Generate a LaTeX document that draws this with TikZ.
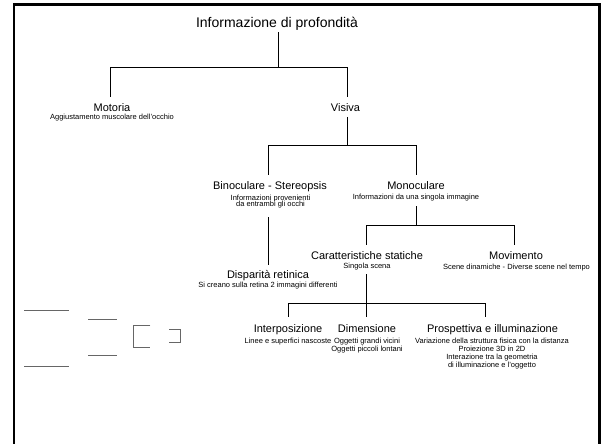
\documentclass[tikz,border=0pt]{standalone}
\usepackage{fontspec}
\setmainfont{Liberation Sans}
\begin{document}
\begin{tikzpicture}[x=1pt,y=-1pt,
  conn/.style={draw=black, line width=0.9pt},
  titletext/.style={font=\fontsize{14}{16}\selectfont, inner sep=0pt,
    text height=10.5pt, text depth=3.5pt, anchor=base},
  head/.style={font=\fontsize{11}{13}\selectfont, inner sep=0pt,
    text height=8.25pt, text depth=2.75pt, anchor=base},
  subtext/.style={font=\fontsize{7.5}{8}\selectfont, inner sep=0pt,
    text height=5.6pt, text depth=1.9pt, anchor=base},
  sketch/.style={draw=black!60, line width=0.8pt}]

\useasboundingbox (0,0) rectangle (602,444);

% outer frame (open at the bottom edge)
\draw[line width=2.8pt] (14,448) -- (14,4.5) -- (599.8,4.5) -- (599.8,448);

% labels
\node[titletext] (title) at (277,27.5) {Informazione di profondità};

\node[head] (motoria) at (112,111.3) {Motoria};
\node[subtext] (motoria-s) at (112,119.8) {Aggiustamento muscolare dell'occhio};
\node[head] (visiva) at (345.5,111.3) {Visiva};

\node[head] (binoc) at (270,189.6) {Binoculare - Stereopsis};
\node[subtext] (binoc-s1) at (270.5,200.2) {Informazioni provenienti};
\node[subtext] (binoc-s2) at (270.5,206.9) {da entrambi gli occhi};
\node[head] (monoc) at (416,189.6) {Monoculare};
\node[subtext] (monoc-s) at (416,199.5) {Informazioni da una singola immagine};

\node[head] (dispar) at (268,278.6) {Disparità retinica};
\node[subtext] (dispar-s) at (268,287.5) {Si creano sulla retina 2 immagini differenti};

\node[head] (carat) at (367,259.6) {Caratteristiche statiche};
\node[subtext] (carat-s) at (367,268.5) {Singola scena};
\node[head] (movim) at (516,259.6) {Movimento};
\node[subtext] (movim-s) at (516.5,269.5) {Scene dinamiche - Diverse scene nel tempo};

\node[head] (interp) at (288,332.6) {Interposizione};
\node[subtext] (interp-s) at (288,343.5) {Linee e superfici nascoste};
\node[head] (dimens) at (367,332.6) {Dimensione};
\node[subtext] (dimens-s1) at (367,343.5) {Oggetti grandi vicini};
\node[subtext] (dimens-s2) at (367,351.5) {Oggetti piccoli lontani};
\node[head] (prosp) at (492.5,332.6) {Prospettiva e illuminazione};
\node[subtext] (prosp-s1) at (492,343.5) {Variazione della struttura fisica con la distanza};
\node[subtext] (prosp-s2) at (492,351.5) {Proiezione 3D in 2D};
\node[subtext] (prosp-s3) at (492,359.5) {Interazione tra la geometria};
\node[subtext] (prosp-s4) at (492,367.5) {di illuminazione e l'oggetto};

% tree connectors
\draw[conn] ([xshift=1pt,yshift=-1pt]title.south) -- ++(0,35) coordinate (j0);
\draw[conn] ([xshift=-1.3pt,yshift=6pt]motoria.north) |- (j0)
  -| ([xshift=1.8pt,yshift=6pt]visiva.north);

\draw[conn] ([xshift=1.8pt,yshift=-2.6pt]visiva.south) -- ++(0,29) coordinate (j1);
\draw[conn] ([xshift=-2pt,yshift=6.35pt]binoc.north) |- (j1)
  -| ([yshift=6.35pt]monoc.north);

\draw[conn] ([xshift=-2.5pt,yshift=-8pt]binoc-s2.south) -- ([yshift=5.35pt]dispar.north);

\draw[conn] ([yshift=-4.6pt]monoc-s.south) -- ++(0,19) coordinate (j2);
\draw[conn] ([xshift=-0.3pt,yshift=6.35pt]carat.north) |- (j2)
  -| ([xshift=-1.7pt,yshift=6.35pt]movim.north);

\draw[conn] ([xshift=-0.3pt,yshift=-3.6pt]carat-s.south) -- ++(0,29) coordinate (j3);
\draw[conn] ([yshift=7.35pt]interp.north) |- (j3)
  -| ([xshift=-6.8pt,yshift=7.35pt]prosp.north);
\draw[conn] (j3) -- ([xshift=-0.3pt,yshift=7.35pt]dimens.north);

% small line sketches at the lower left
\draw[sketch] (24,310.3) -- (69,310.3);
\draw[sketch] (24,366.3) -- (69,366.3);
\draw[sketch] (88,319) -- (117,319);
\draw[sketch] (88,355) -- (117,355);
\draw[sketch] (150.3,325.3) -- (133.3,325.3) -- (133.3,347.3) -- (150.3,347.3);
\draw[sketch] (169.3,329.3) -- (180.3,329.3) -- (180.3,342.3) -- (169.3,342.3);
\end{tikzpicture}
\end{document}
